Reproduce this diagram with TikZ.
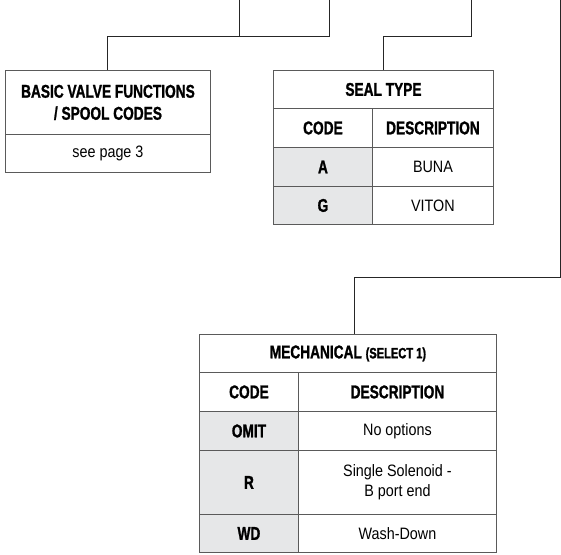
\documentclass[tikz,border=0pt]{standalone}
\usepackage{fontspec}
\usepackage{xcolor}
\usepackage{tikz}
\usetikzlibrary{positioning}
\newfontfamily\tabfont{Liberation Sans}[FakeStretch=0.87]
\newfontfamily\tabhead{Liberation Sans}[FakeStretch=0.74, BoldFeatures={FakeBold=1.2}]
\definecolor{rulegray}{HTML}{5A5A5A}
\definecolor{codegray}{HTML}{E6E7E8}
\tikzset{
	cell/.style={draw=rulegray, line width=0.9pt, anchor=north west, inner sep=0pt, align=center, font=\tabfont\fontsize{16.5}{20}\selectfont},
	headcell/.style={cell, font=\tabhead\bfseries\fontsize{18.5}{22}\selectfont},
	codecell/.style={headcell, fill=codegray},
	wire/.style={draw=black!85, line width=1pt},
}
\begin{document}
\begin{tikzpicture}[x=1pt, y=-1pt]
		\useasboundingbox (0,0) rectangle (561,554);
		% basic valve functions
		\node[headcell, minimum width=205, minimum height=64] (basic) at (5,70) {BASIC VALVE FUNCTIONS\\/ SPOOL CODES};
		\node[cell, minimum width=205, minimum height=38] (basicpage) at (5,134) {see page 3};
		% seal type
		\node[headcell, minimum width=220, minimum height=38] (seal) at (273,70) {SEAL TYPE};
		\node[headcell, minimum width=99, minimum height=39] (sealcode) at (273,108) {CODE};
		\node[headcell, minimum width=121, minimum height=39] (sealdesc) at (372,108) {DESCRIPTION};
		\node[codecell, minimum width=99, minimum height=39] (sealA) at (273,147) {A};
		\node[cell, minimum width=121, minimum height=39] (sealAdesc) at (372,147) {BUNA};
		\node[codecell, minimum width=99, minimum height=38] (sealG) at (273,186) {G};
		\node[cell, minimum width=121, minimum height=38] (sealGdesc) at (372,186) {VITON};
		% mechanical
		\node[headcell, minimum width=297, minimum height=38] (mech) at (199,334) {MECHANICAL {\fontsize{15}{16}\selectfont (SELECT 1)}};
		\node[headcell, minimum width=99, minimum height=39] (mechcode) at (199,372) {CODE};
		\node[headcell, minimum width=198, minimum height=39] (mechdesc) at (298,372) {DESCRIPTION};
		\node[codecell, minimum width=99, minimum height=39] (omit) at (199,411) {OMIT};
		\node[cell, minimum width=198, minimum height=39] (omitdesc) at (298,411) {No options};
		\node[codecell, minimum width=99, minimum height=64] (optR) at (199,450) {R};
		\node[cell, minimum width=198, minimum height=64] (optRdesc) at (298,450) {Single Solenoid -\\B port end};
		\node[codecell, minimum width=99, minimum height=38] (optWD) at (199,514) {WD};
		\node[cell, minimum width=198, minimum height=38] (optWDdesc) at (298,514) {Wash-Down};
		% connectors
		\coordinate (top1) at (239,0);
		\coordinate (top2) at (329,0);
		\coordinate (top3) at (471,0);
		\coordinate (top4) at (560,0);
		\coordinate (mechin) at (354,334);
		\draw[wire] (top1) -- (239,36);
		\draw[wire] (top2) |- (basic.north |- 0,36) -- (basic.north);
		\draw[wire] (top3) |- (seal.north |- 0,36) -- (seal.north);
		\draw[wire] (top4) |- (mechin |- 0,277) -- (mechin);
\end{tikzpicture}
\end{document}
